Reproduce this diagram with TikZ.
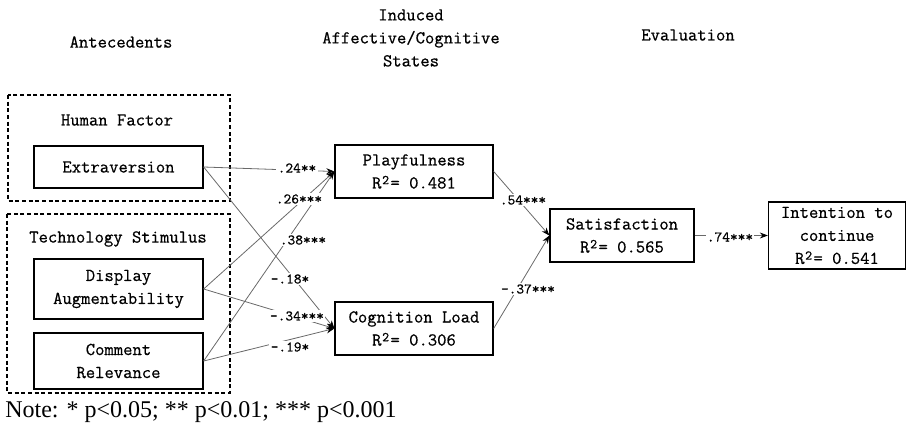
\documentclass[tikz,border=0pt]{standalone}
\usepackage{fontspec}
\setmainfont{Liberation Serif}
\newfontfamily\diagfont{Latin Modern Mono}[FakeBold=0.6]
\usetikzlibrary{arrows.meta}
\definecolor{lineGray}{RGB}{105,105,105}
\newcommand{\rsq}{R\kern0.5pt\raisebox{0.55ex}{\fontsize{10}{10}\selectfont 2}\kern1pt}

\begin{document}
\begin{tikzpicture}[x=0.75pt,y=-0.75pt,
    every node/.style={font=\diagfont\fontsize{13.6}{17.25}\selectfont},
    varbox/.style={draw, line width=1pt, align=center, inner sep=0pt},
    group/.style={draw, line width=0.8pt, dash pattern=on 3pt off 2pt},
    link/.style={lineGray, line width=0.6pt, -{Stealth[length=6pt,width=4.5pt,black]}},
    coef/.style={fill=white, inner sep=1pt, font=\diagfont\fontsize{11}{13}\selectfont}]
  \useasboundingbox (0,0) rectangle (907,427);

  % column titles
  \node (antec) at (121,42) {Antecedents};
  \node[align=center] (induced) at (411,38) {Induced\\Affective/Cognitive\\States};
  \node (evalu) at (688,35) {Evaluation};

  % antecedent groups
  \draw[group] (8,95) rectangle (230,201);
  \draw[group] (7,214) rectangle (230,393);
  \node (human) at (117,120) {Human Factor};
  \node (techno) at (118,239) {Technology Stimulus};

  \node[varbox, minimum width=126.75pt, minimum height=31.5pt] (extra) at (118.5,167) {Extraversion};
  \node[varbox, minimum width=126.75pt, minimum height=45pt] (display) at (118.5,289) {Display\\Augmentability};
  \node[varbox, minimum width=126.75pt, minimum height=42pt] (comment) at (118.5,361) {Comment\\Relevance};

  \node[varbox, minimum width=118.5pt, minimum height=39.75pt] (play) at (414,171.5) {Playfulness\\\rsq = 0.481};
  \node[varbox, minimum width=118.5pt, minimum height=39.75pt] (cogn) at (414,328.5) {Cognition Load\\\rsq = 0.306};
  \node[varbox, minimum width=108pt, minimum height=39.75pt] (satis) at (622,235.5) {Satisfaction\\\rsq = 0.565};
  \node[varbox, minimum width=102.75pt, minimum height=50.25pt] (inten) at (837,235.5) {Intention to\\continue\\\rsq = 0.541};

  \draw[link] (extra.east) -- (play.west);
  \draw[link] (display.east) -- (play.west);
  \draw[link] (comment.east) -- (play.west);
  \draw[link] (extra.east) -- (cogn.west);
  \draw[link] (display.east) -- (cogn.west);
  \draw[link] (comment.east) -- (cogn.west);
  \draw[link] (play.east) -- (satis.west);
  \draw[link] (cogn.east) -- (satis.west);
  \draw[link] (satis.east) -- (inten.west);

  % path coefficients
  \node[coef] (c1) at (297,168) {.24**};
  \node[coef] (c2) at (299,199) {.26***};
  \node[coef] (c3) at (303,240) {.38***};
  \node[coef] (c4) at (290,279) {-.18*};
  \node[coef] (c5) at (297,316) {-.34***};
  \node[coef] (c6) at (290,347) {-.19*};
  \node[coef] (c7) at (523,200) {.54***};
  \node[coef] (c8) at (528,289) {-.37***};
  \node[coef] (c9) at (730,237) {.74***};

  \node[font=\rmfamily\fontsize{18}{20}\selectfont, anchor=west, inner sep=0pt] (note) at (5,412) {Note: * p<0.05; ** p<0.01; *** p<0.001};
\end{tikzpicture}
\end{document}
